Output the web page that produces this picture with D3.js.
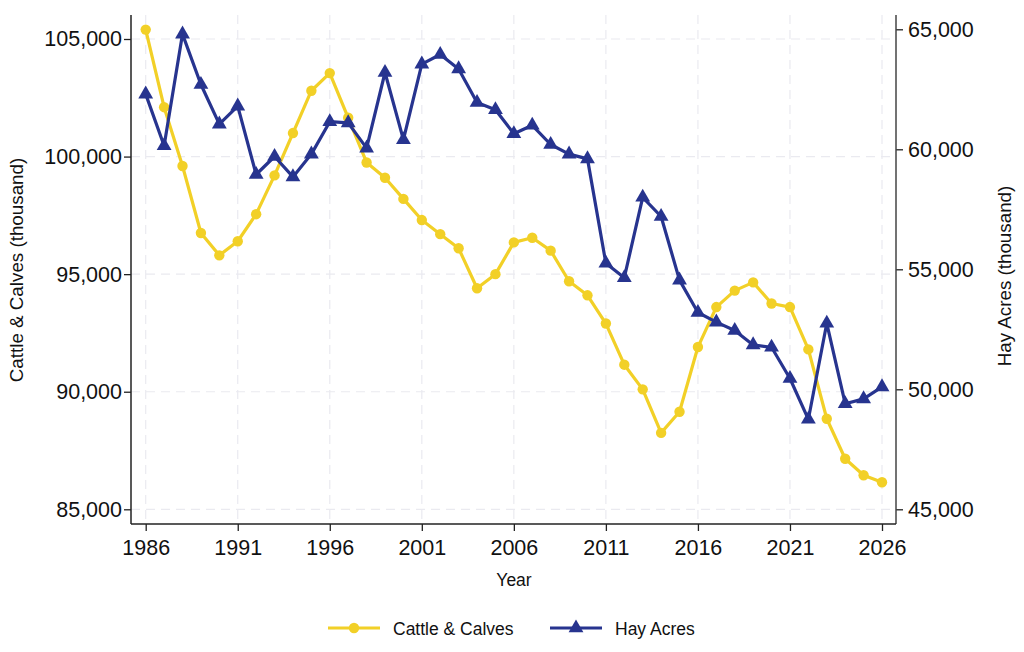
<!DOCTYPE html>
<html>
<head>
<meta charset="utf-8">
<script src="https://cdn.jsdelivr.net/npm/d3@7"></script>
<style>
  html, body { margin: 0; padding: 0; background: #ffffff; }
  svg { display: block; font-family: "Liberation Sans", Arial, Helvetica, sans-serif; }
</style>
</head>
<body>
<svg id="chart" width="1024" height="652"></svg>
<script>
const years = d3.range(1986, 2027);
const cattle = [105400, 102100, 99600, 96750, 95800, 96400, 97550, 99200, 101000, 102800,
  103550, 101650, 99750, 99100, 98200, 97300, 96700, 96100, 94400, 95000,
  96350, 96550, 96000, 94700, 94100, 92900, 91150, 90100, 88250, 89150,
  91900, 93600, 94300, 94650, 93750, 93600, 91800, 88850, 87150, 86450, 86150];
const hay = [62300, 60150, 64800, 62700, 61050, 61800, 58950, 59700, 58850, 59800,
  61150, 61100, 60050, 63200, 60400, 63550, 63950, 63350, 61950, 61650,
  60650, 61000, 60200, 59800, 59600, 55250, 54650, 58000, 57200, 54550,
  53200, 52800, 52450, 51850, 51750, 50450, 48750, 52750, 49400, 49600, 50100];
const xTicks = [1986, 1991, 1996, 2001, 2006, 2011, 2016, 2021, 2026];
const leftTicks = [85000, 90000, 95000, 100000, 105000];
const rightTicks = [45000, 50000, 55000, 60000, 65000];
const seriesNames = ["Cattle & Calves", "Hay Acres"];
const titles = { x: "Year", left: "Cattle & Calves (thousand)", right: "Hay Acres (thousand)" };

const colorCattle = "#f2d027";
const colorHay = "#27348f";
const tickFont = "21.5px";
const titleFont = "17.5px";
const yTitleFont = "18.8px";

const svg = d3.select("#chart");
const spine = { left: 131, right: 896, top: 15, bottom: 524 };

const x = d3.scaleLinear().domain([1986, 2026]).range([145.7, 882]);
const yL = d3.scaleLinear().domain([85000, 105000]).range([509.3, 39]);
const yR = d3.scaleLinear().domain([45000, 65000]).range([509.3, 29.3]);

// gridlines
const grid = svg.append("g").attr("stroke", "#eaeaf0").attr("stroke-width", 1.2).attr("stroke-dasharray", "9,6");
grid.selectAll("line.h").data(leftTicks).join("line")
  .attr("x1", spine.left).attr("x2", spine.right)
  .attr("y1", d => yL(d)).attr("y2", d => yL(d));
grid.selectAll("line.v").data(xTicks).join("line")
  .attr("y1", spine.top).attr("y2", spine.bottom)
  .attr("x1", d => x(d)).attr("x2", d => x(d));

const fmt = d3.format(",");

// Left axis
const gL = svg.append("g").attr("transform", `translate(${spine.left},0)`)
  .call(d3.axisLeft(yL).tickValues(leftTicks).tickFormat(fmt).tickSize(7).tickPadding(2));
gL.select(".domain").remove();
gL.append("line").attr("x1", 0).attr("x2", 0).attr("y1", spine.top).attr("y2", spine.bottom).attr("stroke", "#222").attr("stroke-width", 1.5);

// Right axis
const gR = svg.append("g").attr("transform", `translate(${spine.right},0)`)
  .call(d3.axisRight(yR).tickValues(rightTicks).tickFormat(fmt).tickSize(7).tickPadding(5));
gR.select(".domain").remove();
gR.append("line").attr("x1", 0).attr("x2", 0).attr("y1", spine.top).attr("y2", spine.bottom).attr("stroke", "#444").attr("stroke-width", 1.5);

// Bottom axis
const gB = svg.append("g").attr("transform", `translate(0,${spine.bottom})`)
  .call(d3.axisBottom(x).tickValues(xTicks).tickFormat(d3.format("d")).tickSize(7).tickPadding(9));
gB.select(".domain").remove();
gB.append("line").attr("x1", spine.left).attr("x2", spine.right).attr("y1", 0).attr("y2", 0).attr("stroke", "#222").attr("stroke-width", 1.5);

[gL, gR, gB].forEach(g => {
  g.selectAll("text").attr("font-size", tickFont).attr("fill", "#111").attr("font-family", "Liberation Sans, Arial, sans-serif");
  g.selectAll(".tick line").attr("stroke", "#222").attr("stroke-width", 1.3);
});

// Titles
svg.append("text").attr("x", 514).attr("y", 586).attr("text-anchor", "middle")
  .attr("font-size", titleFont).attr("fill", "#111").text(titles.x);
svg.append("text").attr("transform", "translate(23,270) rotate(-90)").attr("text-anchor", "middle")
  .attr("font-size", yTitleFont).attr("fill", "#111").text(titles.left);
svg.append("text").attr("transform", "translate(1011,276) rotate(-90)").attr("text-anchor", "middle")
  .attr("font-size", yTitleFont).attr("fill", "#111").text(titles.right);

// Lines
const lineC = d3.line().x((d, i) => x(years[i])).y(d => yL(d));
const lineH = d3.line().x((d, i) => x(years[i])).y(d => yR(d));

svg.append("path").datum(cattle).attr("d", lineC).attr("fill", "none")
  .attr("stroke", colorCattle).attr("stroke-width", 3.2).attr("stroke-linejoin", "round");
svg.append("g").selectAll("circle").data(cattle).join("circle")
  .attr("cx", (d, i) => x(years[i])).attr("cy", d => yL(d)).attr("r", 5.2).attr("fill", colorCattle);

svg.append("path").datum(hay).attr("d", lineH).attr("fill", "none")
  .attr("stroke", colorHay).attr("stroke-width", 3.2).attr("stroke-linejoin", "round");
const tri = d3.symbol().type(d3.symbolTriangle).size(95);
svg.append("g").selectAll("path").data(hay).join("path")
  .attr("d", tri).attr("transform", (d, i) => `translate(${x(years[i])},${yR(d)})`).attr("fill", colorHay);

// Legend
const leg = svg.append("g");
const legY = 628;
leg.append("line").attr("x1", 328).attr("x2", 380).attr("y1", legY).attr("y2", legY).attr("stroke", colorCattle).attr("stroke-width", 3.2);
leg.append("circle").attr("cx", 354).attr("cy", legY).attr("r", 5.2).attr("fill", colorCattle);
leg.append("text").attr("x", 393).attr("y", legY + 6.5).attr("font-size", titleFont).attr("fill", "#111").text(seriesNames[0]);
leg.append("line").attr("x1", 550).attr("x2", 602).attr("y1", legY).attr("y2", legY).attr("stroke", colorHay).attr("stroke-width", 3.2);
leg.append("path").attr("d", tri).attr("transform", `translate(576,${legY})`).attr("fill", colorHay);
leg.append("text").attr("x", 615).attr("y", legY + 6.5).attr("font-size", titleFont).attr("fill", "#111").text(seriesNames[1]);
</script>
</body>
</html>
